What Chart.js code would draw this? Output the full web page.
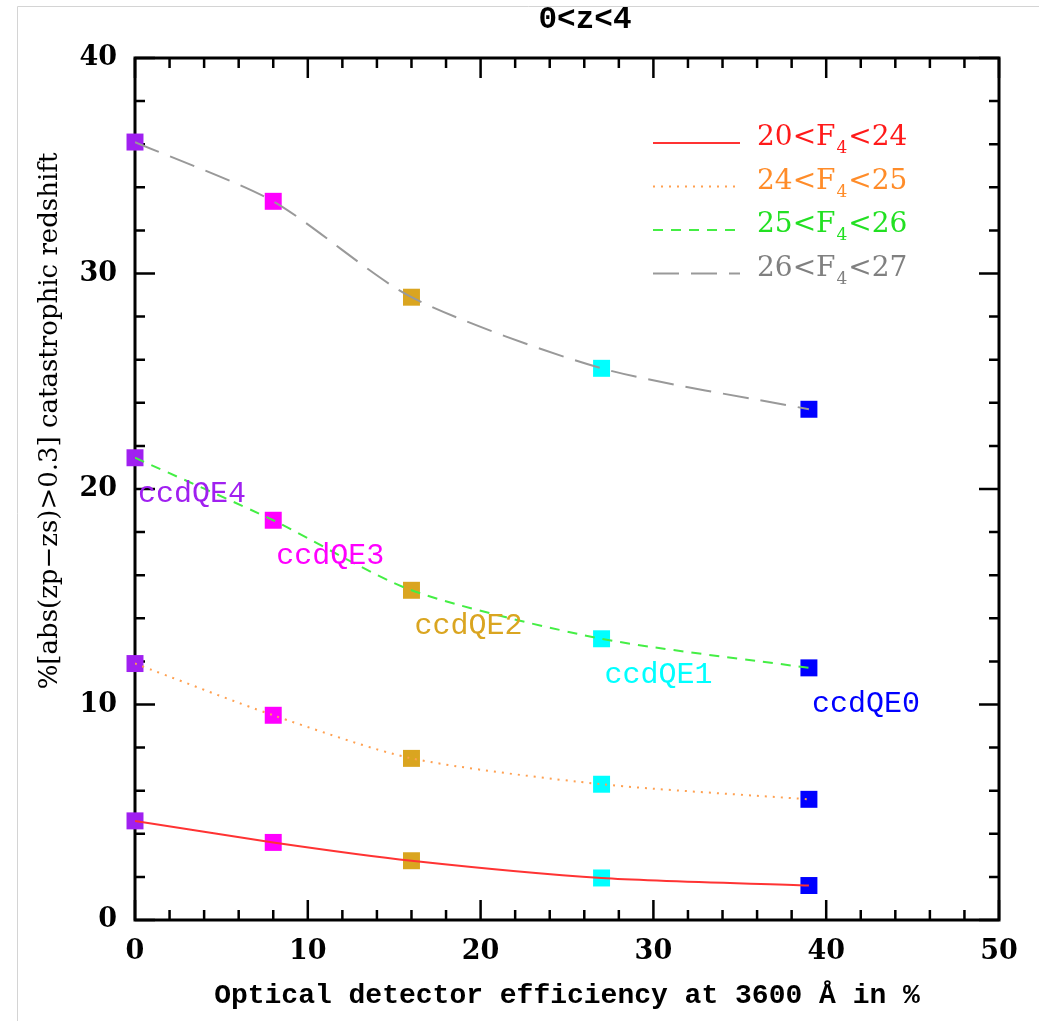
<!DOCTYPE html>
<html>
<head>
<meta charset="utf-8">
<script src="https://cdn.jsdelivr.net/npm/chart.js@4.4.1/dist/chart.umd.min.js"></script>
<style>
  html, body { margin: 0; padding: 0; background: #fff; }
  canvas { display: block; }
</style>
</head>
<body>
<canvas id="chart" width="1039" height="1021"></canvas>
<script>
// catastrophic redshift fraction vs optical detector efficiency

const efficiency = [0, 8, 16, 27, 39];
const ccdNames = ['ccdQE4', 'ccdQE3', 'ccdQE2', 'ccdQE1', 'ccdQE0'];
const ccdColors = ['#a020f0', '#ff00ff', '#daa520', '#00ffff', '#0000ff'];

const mag20to24 = [4.6, 3.6, 2.75, 1.95, 1.6];
const mag24to25 = [11.9, 9.5, 7.5, 6.3, 5.6];
const mag25to26 = [21.45, 18.55, 15.3, 13.05, 11.7];
const mag26to27 = [36.1, 33.35, 28.9, 25.6, 23.7];

const legendLabels = ['20<F_4<24', '24<F_4<25', '25<F_4<26', '26<F_4<27'];
const xTicks = [0, 10, 20, 30, 40, 50];
const yTicks = [0, 10, 20, 30, 40];
const xMinorStep = 2;
const yMinorStep = 2;

const titleText = '0<z<4';
const xTitle = 'Optical detector efficiency at 3600 \u00c5 in %';
const yTitle = '%[abs(zp\u2212zs)>0.3] catastrophic redshift';

const series = [
  { data: mag20to24, line: '#ff3333', text: '#ff1a1a', dash: [] },
  { data: mag24to25, line: '#ffa050', text: '#ff8c29', dash: [2, 6] },
  { data: mag25to26, line: '#44ee44', text: '#22e022', dash: [10, 8] },
  { data: mag26to27, line: '#999999', text: '#808080', dash: [26, 12] }
];

const toXY = (arr) => arr.map((v, i) => ({ x: efficiency[i], y: v }));

const datasets = [];
series.forEach((s, i) => {
  datasets.push({
    label: legendLabels[i],
    data: toXY(s.data),
    borderColor: s.line,
    borderWidth: 2,
    borderDash: s.dash,
    pointRadius: 0,
    tension: 0.25,
    fill: false,
    order: 1
  });
  datasets.push({
    label: legendLabels[i] + ' pts',
    data: toXY(s.data),
    showLine: false,
    pointStyle: 'rect',
    pointRadius: 12,
    pointBorderWidth: 0,
    pointBackgroundColor: ccdColors,
    pointBorderColor: ccdColors,
    clip: false,
    order: 2
  });
});

const frame = {
  id: 'frame',
  beforeDatasetsDraw(chart) {
    const { ctx, chartArea: a, scales: { x, y } } = chart;
    ctx.save();
    // faint picture border
    ctx.strokeStyle = '#d4d4d4';
    ctx.lineWidth = 1;
    ctx.beginPath();
    ctx.moveTo(17.5, 1021);
    ctx.lineTo(17.5, 6.5);
    ctx.lineTo(1039, 6.5);
    ctx.stroke();

    ctx.strokeStyle = '#000';
    ctx.lineWidth = 3;
    ctx.strokeRect(a.left, a.top, a.width, a.height);

    ctx.lineWidth = 2.5;
    ctx.beginPath();
    for (let v = x.min; v <= x.max; v += xMinorStep) {
      const len = xTicks.includes(v) ? 20 : 10;
      const px = x.getPixelForValue(v);
      ctx.moveTo(px, a.bottom); ctx.lineTo(px, a.bottom - len);
      ctx.moveTo(px, a.top); ctx.lineTo(px, a.top + len);
    }
    for (let v = y.min; v <= y.max; v += yMinorStep) {
      const len = yTicks.includes(v) ? 20 : 10;
      const py = y.getPixelForValue(v);
      ctx.moveTo(a.left, py); ctx.lineTo(a.left + len, py);
      ctx.moveTo(a.right, py); ctx.lineTo(a.right - len, py);
    }
    ctx.stroke();
    ctx.restore();
  }
};

function drawSubText(ctx, str, x, y, size) {
  // "_4" means subscript 4
  const parts = str.split('_');
  let cx = x;
  ctx.font = size + 'px "DejaVu Serif"';
  ctx.fillText(parts[0], cx, y);
  cx += ctx.measureText(parts[0]).width;
  if (parts.length > 1) {
    const sub = parts[1].charAt(0);
    const rest = parts[1].slice(1);
    ctx.font = Math.round(size * 0.62) + 'px "DejaVu Serif"';
    ctx.fillText(sub, cx + 1, y + 8);
    cx += ctx.measureText(sub).width + 2;
    ctx.font = size + 'px "DejaVu Serif"';
    ctx.fillText(rest, cx, y);
  }
}

const texts = {
  id: 'texts',
  afterDraw(chart) {
    const { ctx, chartArea: a, scales: { x, y } } = chart;
    ctx.save();
    ctx.fillStyle = '#000';

    // title
    ctx.font = 'bold 31px "Liberation Mono"';
    ctx.textAlign = 'center';
    ctx.textBaseline = 'middle';
    ctx.fillText(titleText, 585, 20);

    // x title
    ctx.font = 'bold 28px "Liberation Mono"';
    ctx.textBaseline = 'alphabetic';
    ctx.fillText(xTitle, (a.left + a.right) / 2, 1003);

    // y title
    ctx.save();
    ctx.translate(50, 421);
    ctx.rotate(-Math.PI / 2);
    ctx.font = '26px "DejaVu Serif"';
    ctx.textBaseline = 'middle';
    ctx.fillText(yTitle, 0, 0);
    ctx.restore();

    // legend
    ctx.textAlign = 'left';
    ctx.textBaseline = 'alphabetic';
    series.forEach((s, i) => {
      const ry = a.top + 85 + i * 43.5;
      ctx.strokeStyle = s.line;
      ctx.lineWidth = 2;
      ctx.setLineDash(s.dash);
      ctx.beginPath();
      ctx.moveTo(653, ry);
      ctx.lineTo(740, ry);
      ctx.stroke();
      ctx.setLineDash([]);
      ctx.fillStyle = s.text;
      drawSubText(ctx, legendLabels[i], 757, ry + 2, 28);
    });

    // ccdQE labels, hung under the 25<F<26 markers
    ctx.font = '30px "Liberation Mono"';
    ctx.textAlign = 'left';
    ccdNames.forEach((name, i) => {
      ctx.fillStyle = ccdColors[i];
      const px = x.getPixelForValue(efficiency[i]);
      const py = y.getPixelForValue(mag25to26[i]);
      ctx.fillText(name, px + 3, py + 44);
    });
    ctx.restore();
  }
};

new Chart(document.getElementById('chart'), {
  type: 'line',
  data: { datasets },
  options: {
    responsive: false,
    animation: false,
    devicePixelRatio: 1,
    layout: { padding: { top: 58, right: 40, left: 0, bottom: 0 } },
    plugins: { legend: { display: false }, tooltip: { enabled: false } },
    scales: {
      x: {
        type: 'linear',
        min: 0,
        max: 50,
        afterFit: (s) => { s.height = 101; },
        afterBuildTicks: (s) => { s.ticks = xTicks.map(v => ({ value: v })); },
        grid: { display: false, drawTicks: false },
        border: { display: false },
        ticks: { color: '#000', padding: 16, font: { family: 'DejaVu Serif', size: 27, weight: 'bold' } }
      },
      y: {
        type: 'linear',
        min: 0,
        max: 40,
        afterFit: (s) => { s.width = 135; },
        afterBuildTicks: (s) => { s.ticks = yTicks.map(v => ({ value: v })); },
        grid: { display: false, drawTicks: false },
        border: { display: false },
        ticks: { color: '#000', padding: 18, font: { family: 'DejaVu Serif', size: 27, weight: 'bold' } }
      }
    }
  },
  plugins: [frame, texts]
});
</script>
</body>
</html>
